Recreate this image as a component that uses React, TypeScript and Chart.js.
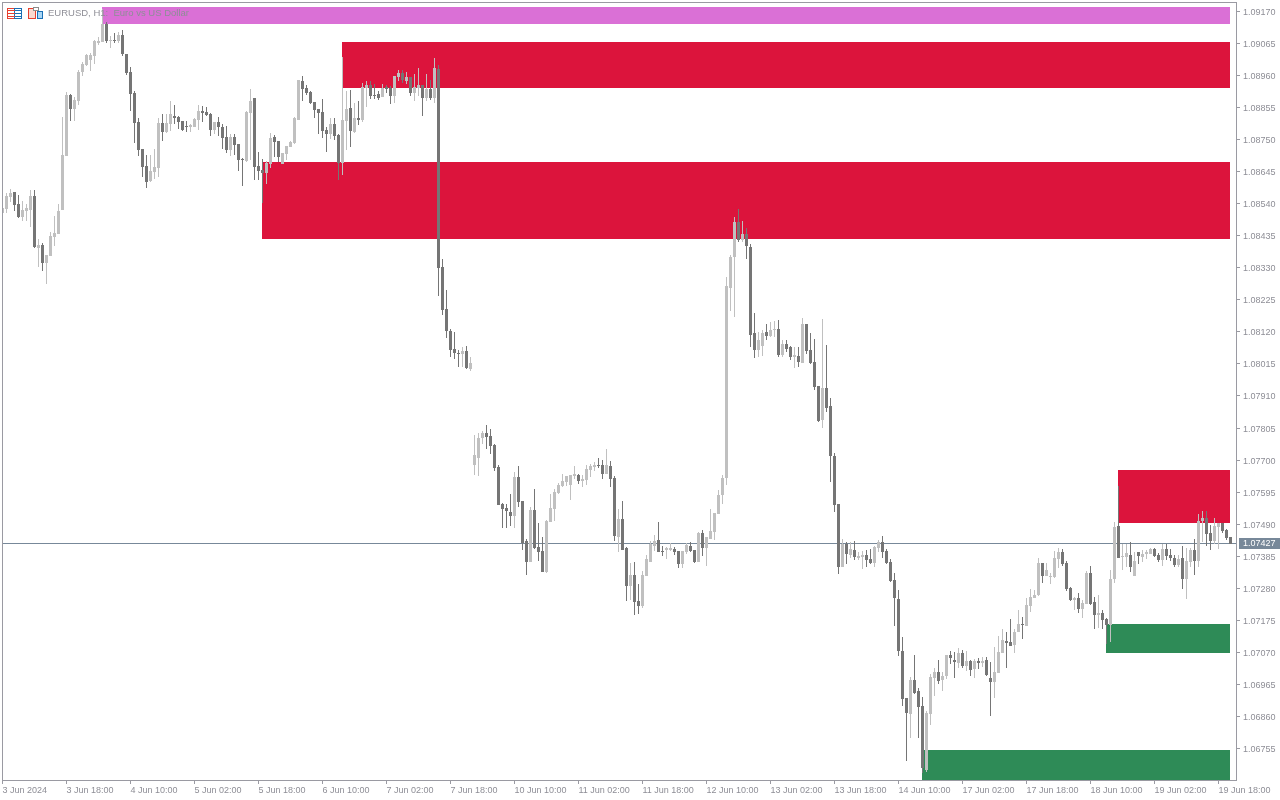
import React, { useEffect, useRef } from "react";
import { Chart, registerables } from "chart.js";

Chart.register(...registerables);

// EURUSD H1 candles, prices in points (1 point = 0.00001)
const opens = [
108511,108523,108563,108578,108539,108495,108516,108520,108565,108395,
108405,108346,108369,108431,108441,108520,108696,108896,108850,108877,
108972,108995,109011,109024,109066,109070,109129,109073,109077,109073,
109093,109031,108972,108903,108808,108719,108664,108615,108644,108657,
108805,108775,108801,108828,108824,108811,108795,108792,108792,108814,
108844,108841,108834,108782,108808,108792,108759,108716,108759,108736,
108687,108680,108837,108887,108664,108651,108641,108670,108759,108746,
108670,108703,108726,108739,108814,108942,108919,108906,108873,108850,
108841,108782,108769,108801,108765,108674,108811,108854,108775,108821,
108814,108919,108929,108896,108900,108890,108923,108919,108893,108955,
108968,108942,108955,108903,108919,108929,108887,108916,108887,108982,
108333,108195,108123,108064,108051,108048,108057,107998,107684,107707,
107772,107789,107779,107749,107677,107556,107543,107530,107517,107645,
107566,107435,107366,107536,107415,107402,107333,107497,107540,107592,
107615,107628,107618,107648,107651,107631,107635,107668,107677,107684,
107684,107654,107681,107641,107448,107507,107412,107287,107323,107238,
107222,107320,107366,107418,107438,107402,107405,107405,107409,107402,
107359,107399,107418,107405,107366,107461,107412,107441,107464,107523,
107586,107641,108264,108365,108480,108421,108441,108398,108116,108061,
108074,108120,108107,108126,108130,108044,108080,108071,108038,108041,
108018,108146,108061,108021,107943,107831,107936,107877,107713,107556,
107350,107425,107389,107405,107379,107382,107389,107376,107363,107412,
107431,107402,107366,107307,107245,107074,106920,106868,106979,106943,
106894,106684,106868,106986,107005,106979,106992,107061,107045,107035,
107068,107025,107041,107015,107041,107035,107045,106986,106973,107002,
107068,107107,107104,107094,107136,107163,107156,107222,107248,107258,
107363,107320,107317,107317,107376,107399,107363,107281,107241,107248,
107212,107228,107330,107235,107192,107199,107179,107160,107310,107484,
107382,107382,107389,107320,107399,107382,107392,107392,107409,107389,
107373,107409,107389,107379,107356,107379,107310,107366,107405,107369,
107500,107510,107461,107435,107481,107494,107471,107448,
];

const closes = [
108525,108565,108576,108536,108495,108520,108526,108565,108398,108405,
108346,108372,108434,108444,108516,108700,108896,108850,108880,108972,
108998,109027,109027,109073,109073,109129,109073,109077,109073,109093,
109031,108968,108900,108805,108716,108660,108611,108647,108660,108805,
108775,108805,108834,108821,108808,108782,108792,108798,108818,108844,
108837,108831,108782,108808,108792,108755,108716,108759,108733,108683,
108683,108841,108877,108660,108647,108641,108674,108755,108742,108693,
108706,108729,108742,108821,108945,108916,108903,108870,108847,108837,
108778,108769,108801,108762,108674,108814,108850,108778,108821,108814,
108923,108929,108893,108893,108887,108919,108916,108893,108959,108968,
108945,108955,108903,108923,108929,108887,108916,108887,108985,108329,
108192,108123,108061,108051,108048,108057,108002,108018,107717,107772,
107789,107776,107746,107674,107553,107540,107533,107517,107645,107563,
107428,107366,107536,107412,107399,107333,107500,107543,107595,107618,
107631,107648,107651,107654,107631,107638,107671,107681,107684,107681,
107654,107684,107638,107451,107507,107405,107287,107323,107235,107222,
107323,107376,107425,107435,107399,107399,107412,107412,107399,107359,
107402,107422,107402,107366,107461,107412,107448,107468,107527,107586,
107641,108270,108365,108480,108421,108441,108402,108110,108061,108093,
108116,108107,108126,108130,108044,108080,108064,108038,108044,108021,
108146,108057,108018,107939,107828,107936,107871,107713,107553,107350,
107425,107392,107409,107382,107386,107389,107373,107363,107415,107432,
107399,107363,107304,107248,107074,106917,106871,106979,106937,106891,
106691,106871,106989,107005,106976,106992,107061,107051,107038,107068,
107025,107041,107012,107041,107035,107041,106996,106973,107005,107071,
107110,107100,107091,107136,107163,107159,107225,107251,107258,107363,
107320,107340,107320,107379,107399,107359,107277,107241,107248,107212,
107232,107330,107228,107192,107199,107176,107160,107310,107481,107379,
107386,107395,107350,107369,107386,107392,107399,107409,107386,107373,
107409,107386,107379,107356,107376,107310,107369,107405,107369,107500,
107510,107458,107435,107484,107494,107468,107445,107425,
];

const highs = [
108525,108576,108588,108578,108569,108549,108539,108585,108585,108424,
108411,108372,108447,108500,108539,108824,108906,108900,108890,108978,
109005,109031,109034,109077,109086,109178,109136,109090,109100,109103,
109109,109031,108988,108910,108821,108719,108700,108700,108719,108821,
108834,108834,108877,108864,108828,108811,108811,108801,108821,108864,
108860,108857,108837,108808,108824,108801,108795,108769,108769,108736,
108690,108844,108916,108887,108710,108687,108680,108772,108765,108746,
108706,108729,108746,108824,108945,108959,108929,108910,108873,108850,
108883,108791,108821,108821,108769,109021,108909,108913,108870,108877,
108936,108942,108942,108932,108909,108932,108929,108926,108959,108978,
108978,108972,108955,108965,108985,108929,108965,108945,109018,108995,
108359,108257,108130,108120,108061,108071,108074,108038,107782,107789,
107795,107815,107802,107753,107684,107559,107556,107589,107661,107681,
107566,107441,107546,107605,107494,107448,107504,107589,107605,107625,
107654,107648,107651,107681,107654,107651,107684,107687,107694,107707,
107700,107736,107697,107648,107540,107566,107415,107363,107366,107294,
107336,107389,107435,107454,107497,107418,107415,107428,107415,107402,
107402,107428,107432,107405,107464,107471,107448,107540,107527,107602,
107651,108300,108372,108497,108523,108483,108460,108408,108182,108120,
108126,108146,108152,108156,108159,108093,108093,108074,108071,108071,
108166,108146,108116,108097,107943,108162,108077,107903,107723,107556,
107441,107432,107432,107435,107399,107402,107405,107409,107418,107438,
107451,107409,107376,107330,107274,107120,106920,106989,107061,106953,
106924,106878,106999,107019,107045,107005,107061,107074,107071,107084,
107077,107074,107045,107048,107051,107055,107055,107038,107087,107123,
107146,107136,107179,107146,107209,107186,107248,107277,107274,107379,
107363,107363,107330,107402,107412,107408,107369,107284,107251,107264,
107241,107336,107353,107251,107258,107209,107182,107340,107497,107615,
107425,107425,107432,107399,107399,107405,107405,107412,107412,107395,
107425,107425,107409,107389,107389,107418,107412,107412,107441,107523,
107533,107533,107487,107510,107494,107494,107474,107448,
];

const lows = [
108511,108511,108546,108517,108492,108482,108483,108465,108395,108333,
108320,108277,108369,108401,108441,108520,108696,108811,108811,108864,
108959,108991,108975,108998,109060,109070,109067,109050,109067,109067,
109024,108962,108844,108739,108696,108628,108592,108611,108621,108628,
108746,108772,108778,108801,108785,108778,108775,108775,108792,108782,
108808,108828,108762,108769,108762,108719,108706,108696,108700,108647,
108598,108677,108683,108618,108618,108541,108605,108657,108693,108677,
108670,108683,108726,108736,108814,108877,108896,108867,108821,108769,
108755,108710,108752,108749,108618,108634,108716,108726,108772,108798,
108808,108857,108883,108883,108880,108890,108903,108867,108870,108942,
108936,108932,108893,108877,108893,108828,108877,108880,108870,108238,
108175,108100,108038,108031,108005,108005,107998,107992,107651,107648,
107753,107736,107720,107664,107553,107477,107477,107484,107477,107546,
107405,107323,107366,107409,107369,107333,107330,107497,107500,107589,
107612,107615,107569,107638,107622,107612,107618,107645,107664,107674,
107638,107654,107612,107435,107399,107405,107238,107241,107192,107196,
107215,107320,107366,107402,107399,107386,107376,107402,107389,107346,
107346,107392,107399,107363,107366,107386,107353,107441,107438,107523,
107556,107618,108188,108169,108415,108415,108359,108071,108034,108038,
108041,108093,108103,108103,108038,108038,108054,108028,108002,108005,
108018,108048,108015,107930,107825,107805,107858,107628,107530,107327,
107350,107359,107379,107373,107373,107343,107350,107359,107350,107399,
107379,107359,107300,107156,107058,106894,106714,106789,106933,106789,
106675,106678,106832,106927,106966,106943,106982,107032,106986,107019,
107019,107009,106992,106986,107015,107022,106992,106861,106920,107002,
107068,107019,107091,107068,107136,107114,107156,107202,107248,107254,
107297,107320,107294,107313,107346,107353,107271,107238,107209,107199,
107182,107228,107225,107146,107150,107146,107097,107104,107297,107379,
107340,107350,107333,107320,107359,107366,107376,107392,107382,107366,
107353,107373,107369,107350,107350,107277,107245,107350,107323,107350,
107432,107418,107405,107425,107409,107461,107438,107425,
];

const POINT = 0.00001;
const CURRENT_PRICE = 1.07427;

const priceTicks = [
  1.0917, 1.09065, 1.0896, 1.08855, 1.0875, 1.08645, 1.0854, 1.08435, 1.0833, 1.08225, 1.0812, 1.08015,
  1.0791, 1.07805, 1.077, 1.07595, 1.0749, 1.07385, 1.0728, 1.07175, 1.0707, 1.06965, 1.0686, 1.06755,
];

const timeLabels = [
  "3 Jun 2024", "3 Jun 18:00", "4 Jun 10:00", "5 Jun 02:00", "5 Jun 18:00", "6 Jun 10:00", "7 Jun 02:00",
  "7 Jun 18:00", "10 Jun 10:00", "11 Jun 02:00", "11 Jun 18:00", "12 Jun 10:00", "13 Jun 02:00", "13 Jun 18:00",
  "14 Jun 10:00", "17 Jun 02:00", "17 Jun 18:00", "18 Jun 10:00", "19 Jun 02:00", "19 Jun 18:00",
];
const BARS_PER_TIME_LABEL = 16;

// Zones: first candle index, upper and lower price in points
const zoneStart = [25, 85, 65, 279, 276, 230];
const zoneUpper = [109185, 109070, 108677, 107667, 107163, 106750];
const zoneLower = [109129, 108919, 108425, 107494, 107068, 106652];
const zoneColor = ["#DA70D6", "#DC143C", "#DC143C", "#DC143C", "#2E8B57", "#2E8B57"];

const LIGHT = "#C0C0C0";
const DARK = "#757575";
const TEXT = "#8E8E96";
const FRAME = "#9A9AA2";
const PRICE_LINE = "#778899";
const FONT = "Liberation Sans";
const TITLE = "EURUSD, H1:  Euro vs US Dollar";

const candleColors = opens.map((o, i) => (closes[i] >= o ? LIGHT : DARK));

const labelNudge = {
  id: "labelNudge",
  afterUpdate(chart: any) {
    chart.scales.y.getLabelItems(chart.chartArea).forEach((item: any) => {
      item.options.translation[1] += 1;
    });
  },
};

const crispBars = {
  id: "crispBars",
  beforeDatasetsDraw(chart: any) {
    chart.getSortedVisibleDatasetMetas().forEach((meta: any) => {
      meta.data.forEach((el: any) => {
        const top = Math.round(Math.min(el.y, el.base));
        const bottom = Math.round(Math.max(el.y, el.base));
        el.y = top;
        el.base = bottom === top ? top + 1 : bottom;
      });
    });
  },
};

const zonesAndLine = {
  id: "zonesAndLine",
  beforeDatasetsDraw(chart: any) {
    const { ctx, scales, chartArea } = chart;
    const right = Math.floor(scales.x.getPixelForValue(opens.length - 1));
    ctx.save();
    zoneStart.forEach((start, i) => {
      const left = Math.floor(scales.x.getPixelForValue(start));
      const top = Math.round(scales.y.getPixelForValue(zoneUpper[i] * POINT));
      const bottom = Math.round(scales.y.getPixelForValue(zoneLower[i] * POINT));
      ctx.fillStyle = zoneColor[i];
      ctx.fillRect(left, top, right - left, bottom - top);
    });
    const y = Math.floor(scales.y.getPixelForValue(CURRENT_PRICE));
    ctx.fillStyle = PRICE_LINE;
    ctx.fillRect(chartArea.left, y, chartArea.right - chartArea.left, 1);
    ctx.restore();
  },
};

function drawIcons(ctx: CanvasRenderingContext2D) {
  const red = "#E8402F";
  const blue = "#1A6FB5";
  ctx.lineWidth = 1;
  ctx.strokeStyle = red;
  ctx.strokeRect(7.5, 8.5, 7, 10);
  ctx.strokeStyle = blue;
  ctx.strokeRect(14.5, 8.5, 7, 10);
  for (const y of [10.5, 13.5, 16.5]) {
    ctx.strokeStyle = red;
    ctx.beginPath();
    ctx.moveTo(8, y);
    ctx.lineTo(15, y);
    ctx.stroke();
    ctx.strokeStyle = blue;
    ctx.beginPath();
    ctx.moveTo(15, y);
    ctx.lineTo(21, y);
    ctx.stroke();
  }
  ctx.fillStyle = "#FBD9D0";
  ctx.fillRect(28.5, 8.5, 7, 10);
  ctx.strokeStyle = red;
  ctx.strokeRect(28.5, 8.5, 7, 10);
  ctx.fillStyle = "#A9D6F5";
  ctx.fillRect(37.5, 11.5, 5, 7);
  ctx.strokeStyle = blue;
  ctx.strokeRect(37.5, 11.5, 5, 7);
  ctx.fillStyle = "#FFFFFF";
  ctx.fillRect(33, 7, 6, 4);
  ctx.strokeStyle = "#8C8C8C";
  ctx.strokeRect(33.5, 7.5, 5, 3);
}

const frameAndCaptions = {
  id: "frameAndCaptions",
  afterDraw(chart: any) {
    const { ctx, scales, chartArea } = chart;
    ctx.save();
    ctx.strokeStyle = FRAME;
    ctx.lineWidth = 1;
    ctx.strokeRect(chartArea.left + 0.5, chartArea.top + 0.5, chartArea.right - chartArea.left, chartArea.bottom - chartArea.top);

    const y = Math.floor(scales.y.getPixelForValue(CURRENT_PRICE));
    ctx.fillStyle = PRICE_LINE;
    ctx.fillRect(1239, y - 5, 41, 11);
    ctx.fillStyle = "#FFFFFF";
    ctx.font = `9px "${FONT}"`;
    ctx.textBaseline = "middle";
    ctx.textAlign = "left";
    ctx.fillText(CURRENT_PRICE.toFixed(5), 1243, y + 1);

    drawIcons(ctx);
    ctx.fillStyle = TEXT;
    ctx.font = `9.5px "${FONT}"`;
    ctx.fillText(TITLE, 48, 13.5);
    ctx.restore();
  },
};

export default function App() {
  const ref = useRef<HTMLCanvasElement>(null);
  useEffect(() => {
    document.body.style.margin = "0";
    const xs = opens.map((_, i) => i);
    const chart = new Chart(ref.current as HTMLCanvasElement, {
      type: "bar",
      data: {
        datasets: [
          {
            label: "Body",
            data: xs.map((i) => ({ x: i, y: [opens[i] * POINT, closes[i] * POINT] })),
            backgroundColor: candleColors,
            barThickness: 3,
            grouped: false,
            inflateAmount: 0,
            borderWidth: 0,
          },
          {
            label: "Wick",
            data: xs.map((i) => ({ x: i, y: [lows[i] * POINT, highs[i] * POINT] })),
            backgroundColor: candleColors,
            barThickness: 1,
            grouped: false,
            inflateAmount: 0,
            borderWidth: 0,
          },
        ],
      } as any,
      options: {
        responsive: false,
        animation: false,
        layout: { autoPadding: false, padding: { left: 2, top: 2, right: 0, bottom: 0 } },
        plugins: { legend: { display: false }, tooltip: { enabled: false }, title: { display: false } },
        scales: {
          x: {
            type: "linear",
            offset: false,
            min: -0.125,
            max: 308.375,
            afterBuildTicks(axis: any) {
              axis.ticks = timeLabels.map((_, k) => ({ value: k * BARS_PER_TIME_LABEL }));
            },
            afterFit(axis: any) {
              axis.height = 20;
              axis.paddingLeft = 0;
              axis.paddingRight = 0;
            },
            grid: { offset: false, drawOnChartArea: false, drawTicks: true, tickLength: 4, color: FRAME },
            border: { display: false },
            ticks: {
              autoSkip: false,
              maxRotation: 0,
              minRotation: 0,
              align: "start",
              padding: 1,
              color: TEXT,
              font: { family: FONT, size: 9 },
              callback: (v: any) => timeLabels[Math.round(v / BARS_PER_TIME_LABEL)],
            },
          },
          y: {
            type: "linear",
            position: "right",
            min: 1.06651549,
            max: 1.09201132,
            afterBuildTicks(axis: any) {
              axis.ticks = priceTicks.map((value) => ({ value }));
            },
            afterFit(axis: any) {
              axis.width = 44;
              axis.paddingTop = 0;
              axis.paddingBottom = 0;
            },
            grid: { drawOnChartArea: false, drawTicks: true, tickLength: 4, color: FRAME },
            border: { display: false },
            ticks: {
              autoSkip: false,
              padding: 3,
              color: TEXT,
              font: { family: FONT, size: 9 },
              callback: (v: any) => Number(v).toFixed(5),
            },
          },
        },
      } as any,
      plugins: [labelNudge, crispBars, zonesAndLine, frameAndCaptions],
    });
    return () => chart.destroy();
  }, []);
  return (
    <div style={{ position: "absolute", left: 0, top: 0, width: 1280, height: 800 }}>
      <canvas ref={ref} width={1280} height={800} style={{ display: "block" }} />
    </div>
  );
}
